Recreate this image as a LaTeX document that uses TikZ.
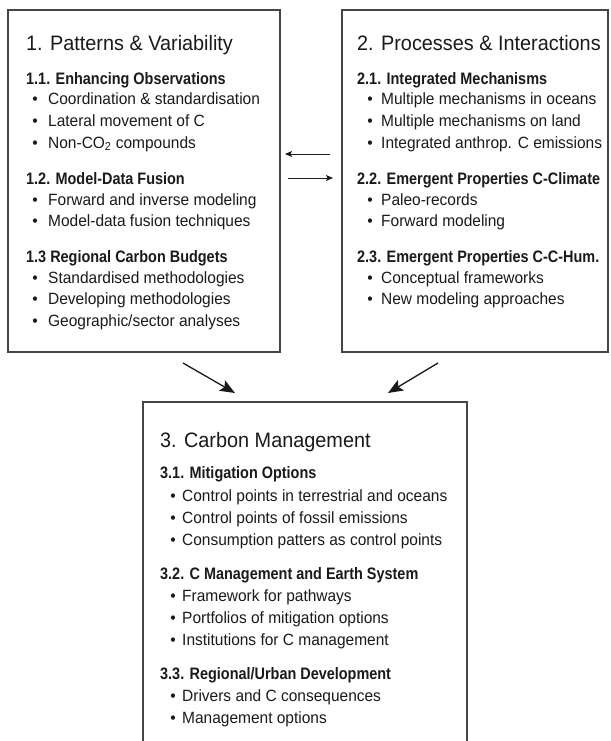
\documentclass[tikz,border=0pt]{standalone}
\usepackage{fontspec}
\setmainfont[FakeStretch=0.95]{Liberation Sans}
\newfontfamily\hdfont[FakeStretch=0.87]{Liberation Sans}
\usetikzlibrary{arrows.meta}
\definecolor{bordc}{HTML}{454545}
\definecolor{txtc}{HTML}{1A1A1A}
\newcommand{\myitem}[5]{%
  \node[dotst] (d#1) at (#2,#4) {\textbullet};
  \node[bl] (#1) at (#3,#4) {#5};}
\begin{document}
\begin{tikzpicture}[x=1pt,y=-1pt,
  boxst/.style={draw=bordc, line width=1.8pt, rectangle, inner sep=0pt, outer sep=0pt, anchor=north west},
  ttl/.style={anchor=base west, inner sep=0pt, text=txtc, font=\fontsize{20.9}{24}\selectfont},
  hd/.style={anchor=base west, inner sep=0pt, text=txtc, font=\hdfont\bfseries\fontsize{16.6}{19}\selectfont},
  bl/.style={anchor=base west, inner sep=0pt, text=txtc, font=\fontsize{16.3}{19}\selectfont},
  dotst/.style={anchor=base, inner sep=0pt, text=txtc, font=\fontsize{16.3}{19}\selectfont},
  bigarr/.style={draw=txtc, line width=1.3pt, -{Stealth[length=15pt,width=12pt,inset=3pt]}},
  smallarr/.style={draw=txtc, line width=1pt, -{Stealth[length=7pt,width=6pt,inset=1.5pt]}}]
\useasboundingbox (0,0) rectangle (610,741);
\clip (0,0) rectangle (610,741);
\fill[white] (0,0) rectangle (610,741);

% boxes
\node[boxst, minimum width=272pt, minimum height=342pt] (box1) at (8,10) {};
\node[boxst, minimum width=266pt, minimum height=342pt] (box2) at (342,10) {};
\node[boxst, minimum width=324pt, minimum height=360pt] (box3) at (143,402) {};

% box 1
\node[ttl] (t1) at (26,51) {1. Patterns \& Variability};
\node[hd] (h11) at (26,85) {1.1. Enhancing Observations};
\myitem{b111}{35}{48}{105}{Coordination \& standardisation}
\myitem{b112}{35}{48}{126}{Lateral movement of C}
\myitem{b113}{35}{48}{148}{Non-CO\textsubscript{2} compounds}
\node[hd] (h12) at (26,184) {1.2. Model-Data Fusion};
\myitem{b121}{35}{48}{205}{Forward and inverse modeling}
\myitem{b122}{35}{48}{226}{Model-data fusion techniques}
\node[hd] (h13) at (26,262) {1.3 Regional Carbon Budgets};
\myitem{b131}{35}{48}{283}{Standardised methodologies}
\myitem{b132}{35}{48}{304}{Developing methodologies}
\myitem{b133}{35}{48}{326}{Geographic/sector analyses}

% box 2
\node[ttl] (t2) at (357,51) {2. Processes \& Interactions};
\node[hd] (h21) at (357,85) {2.1. Integrated Mechanisms};
\myitem{b211}{370}{381}{105}{Multiple mechanisms in oceans}
\myitem{b212}{370}{381}{126}{Multiple mechanisms on land}
\myitem{b213}{370}{381}{148}{Integrated anthrop. C emissions}
\node[hd] (h22) at (357,184) {2.2. Emergent Properties C-Climate};
\myitem{b221}{370}{381}{205}{Paleo-records}
\myitem{b222}{370}{381}{226}{Forward modeling}
\node[hd] (h23) at (357,262) {2.3. Emergent Properties C-C-Hum.};
\myitem{b231}{370}{381}{283}{Conceptual frameworks}
\myitem{b232}{370}{381}{304}{New modeling approaches}

% box 3
\node[ttl] (t3) at (160,447) {3. Carbon Management};
\node[hd] (h31) at (160,478) {3.1. Mitigation Options};
\myitem{b311}{173}{182}{501}{Control points in terrestrial and oceans}
\myitem{b312}{173}{182}{523}{Control points of fossil emissions}
\myitem{b313}{173}{182}{545}{Consumption patters as control points}
\node[hd] (h32) at (160,579) {3.2. C Management and Earth System};
\myitem{b321}{173}{182}{601}{Framework for pathways}
\myitem{b322}{173}{182}{623}{Portfolios of mitigation options}
\myitem{b323}{173}{182}{645}{Institutions for C management}
\node[hd] (h33) at (160,679) {3.3. Regional/Urban Development};
\myitem{b331}{173}{182}{701}{Drivers and C consequences}
\myitem{b332}{173}{182}{723}{Management options}

% arrows between boxes 1 and 2
\coordinate (r1) at (0,154);
\coordinate (r2) at (0,178);
\draw[smallarr, shorten <=12pt, shorten >=5pt] (box2.west |- r1) -- (box1.east |- r1);
\draw[smallarr, shorten <=8pt, shorten >=9pt] (box1.east |- r2) -- (box2.west |- r2);

% arrows to box 3
\coordinate (a1s) at (183,363);
\coordinate (a1e) at (235,393);
\coordinate (a2s) at (438,363);
\coordinate (a2e) at (388,393);
\draw[bigarr] (a1s) -- (a1e);
\draw[bigarr] (a2s) -- (a2e);
\end{tikzpicture}
\end{document}
